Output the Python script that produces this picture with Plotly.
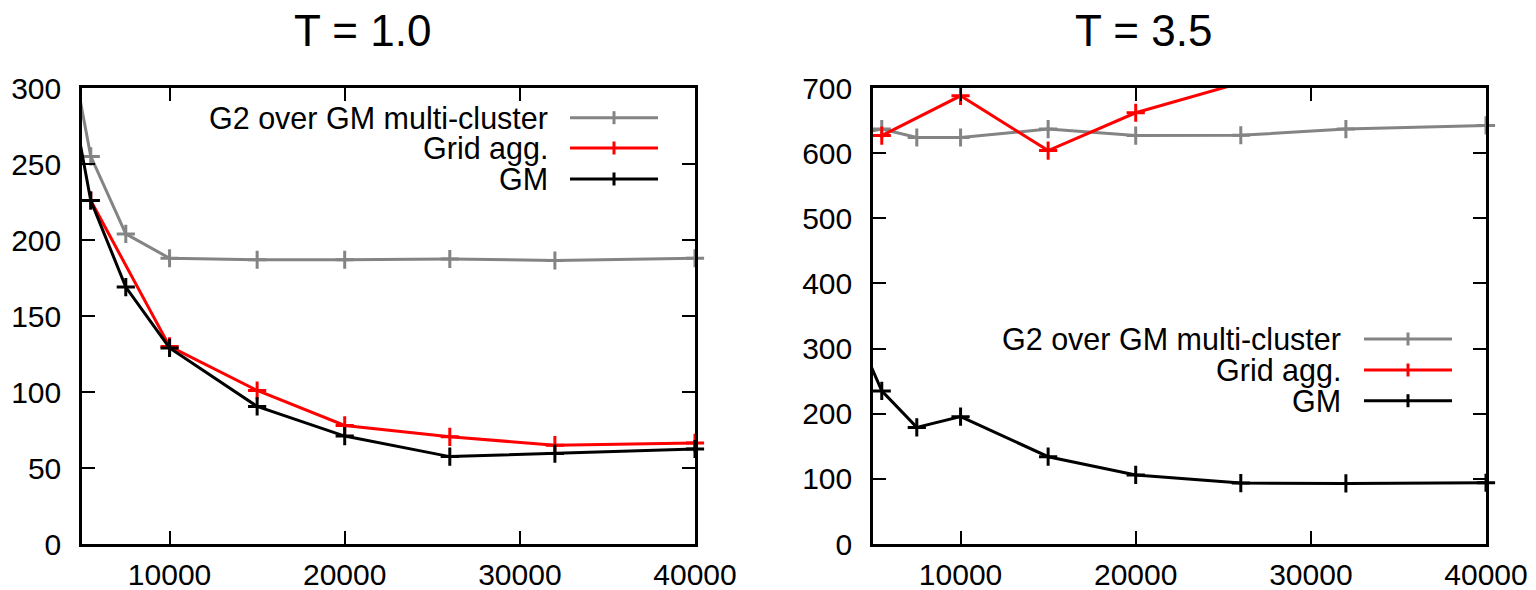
import plotly.graph_objects as go
from plotly.subplots import make_subplots

# ---- data -------------------------------------------------------------
series_names = ["G2 over GM multi-cluster", "Grid agg.", "GM"]
series_colors = ["#848484", "#ff0000", "#000000"]

x_full = [2500, 5500, 7500, 10000, 15000, 20000, 26000, 32000, 40000]
x_grid = [5500, 10000, 15000, 20000, 26000, 32000, 40000]

# T = 1.0
t10_g2 = [439, 255, 204, 188, 187, 187, 187.5, 186.5, 188]
t10_grid = [226, 130, 101, 78, 70.5, 65, 66.5]
t10_gm = [412, 226, 169, 129, 90.5, 71, 57.5, 59.5, 62.5]

# T = 3.5
t35_g2 = [622, 637, 624, 624, 637, 627, 627.5, 637, 642.5]
t35_grid = [627, 688, 604, 662, 708, 740, 770]
t35_gm = [421, 235, 179, 195.5, 134, 106, 93.5, 93, 94]

titles = ["T = 1.0", "T = 3.5"]
x_ticks = [10000, 20000, 30000, 40000]
x_range = [5000, 40000]
y_ranges = [[0, 300], [0, 700]]
y_steps = [50, 100]

# ---- figure -----------------------------------------------------------
W, H = 1536, 590
FONT = "Liberation Sans, Arial, Helvetica, sans-serif"


def px(x):
    return x / W


def py(y):
    return 1 - y / H


fig = make_subplots(rows=1, cols=2)

panels = [
    (1, [(x_full, t10_g2), (x_grid, t10_grid), (x_full, t10_gm)]),
    (2, [(x_full, t35_g2), (x_grid, t35_grid), (x_full, t35_gm)]),
]

for col, data in panels:
    for (xs, ys), name, color in zip(data, series_names, series_colors):
        fig.add_trace(
            go.Scatter(
                x=xs, y=ys, name=name, mode="lines+markers",
                line=dict(color=color, width=3),
                marker=dict(symbol="cross-thin", size=13,
                            line=dict(color=color, width=3)),
                cliponaxis=False, showlegend=False,
            ),
            row=1, col=col,
        )

x_domains = [[px(82), px(695)], [px(873), px(1486)]]
y_domain = [py(544), py(88)]

axis_common = dict(
    showline=True, mirror="allticks", linecolor="black", linewidth=2.5,
    ticks="inside", ticklen=13, tickwidth=2, tickcolor="black",
    showgrid=False, zeroline=False,
    tickfont=dict(family=FONT, size=30, color="black"),
)

for i in range(2):
    fig.update_xaxes(
        domain=x_domains[i], range=x_range, tickvals=x_ticks,
        tickformat="d", ticklabelstandoff=2, **axis_common,
        row=1, col=i + 1,
    )
    fig.update_yaxes(
        domain=y_domain, range=y_ranges[i], dtick=y_steps[i], tick0=0,
        ticklabelstandoff=12, **axis_common,
        row=1, col=i + 1,
    )

# ---- titles -----------------------------------------------------------
annotations = []
for title, cx in zip(titles, [362, 1143]):
    annotations.append(dict(
        text=title, x=px(cx), y=py(31), xref="paper", yref="paper",
        xanchor="center", yanchor="middle", showarrow=False,
        font=dict(family=FONT, size=44, color="black"),
    ))

# ---- keys (text on the left, line sample with a cross on the right) ---
shapes = []
key_layouts = [
    (550, 570, 658, [117.7, 148, 179]),
    (1343, 1364, 1452, [339, 370, 400.7]),
]
for text_right, s0, s1, rows in key_layouts:
    for name, color, yrow in zip(series_names, series_colors, rows):
        annotations.append(dict(
            text=name, x=px(text_right), y=py(yrow), xref="paper",
            yref="paper", xanchor="right", yanchor="middle",
            showarrow=False,
            font=dict(family=FONT, size=30.5, color="black"),
        ))
        shapes.append(dict(
            type="line", xref="paper", yref="paper",
            x0=px(s0), x1=px(s1), y0=py(yrow), y1=py(yrow),
            line=dict(color=color, width=3),
        ))
        cx = (s0 + s1) / 2
        shapes.append(dict(
            type="line", xref="paper", yref="paper",
            x0=px(cx), x1=px(cx), y0=py(yrow - 6.5), y1=py(yrow + 6.5),
            line=dict(color=color, width=3),
        ))

fig.update_layout(
    width=W, height=H,
    margin=dict(l=0, r=0, t=0, b=0),
    paper_bgcolor="white", plot_bgcolor="white",
    template="none",
    annotations=annotations, shapes=shapes,
    showlegend=False,
)

fig.write_html("out.html")
